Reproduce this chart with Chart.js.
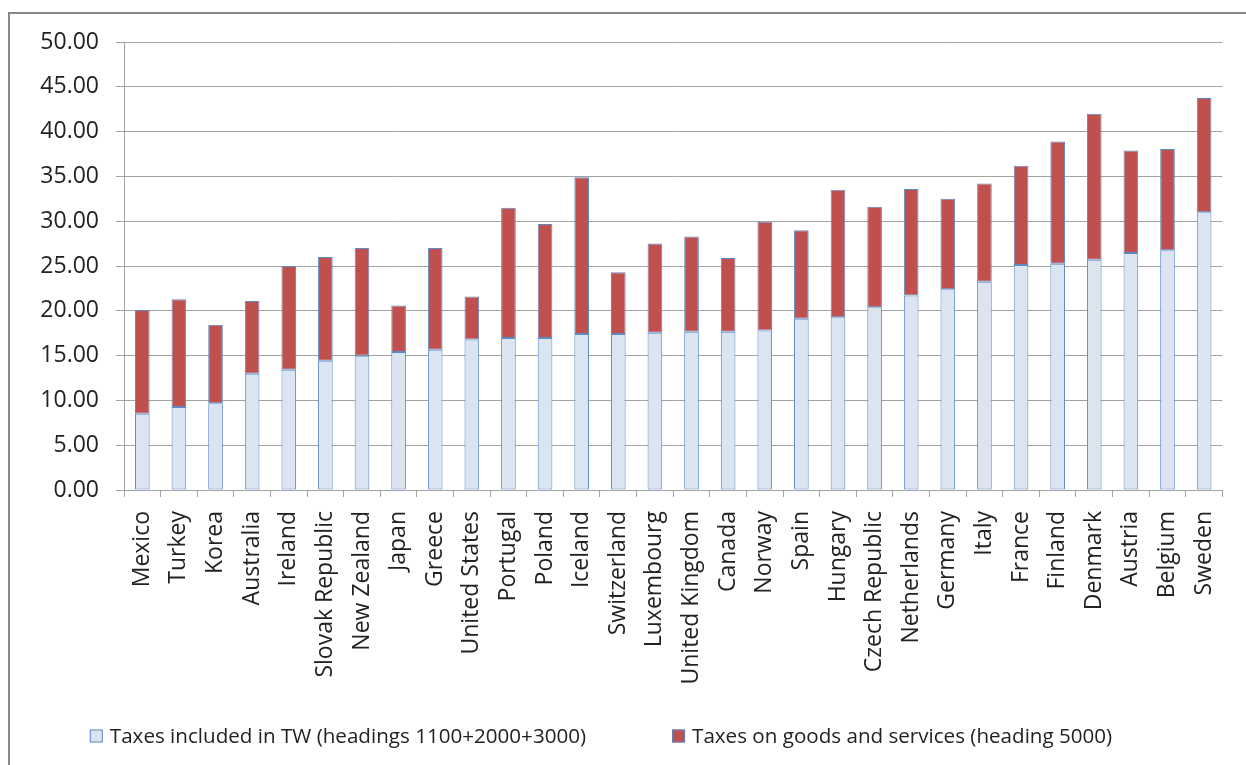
<!DOCTYPE html>
<html>
<head>
<meta charset="utf-8">
<script src="https://cdn.jsdelivr.net/npm/chart.js@4.4.1/dist/chart.umd.min.js"></script>
<style>
  html, body { margin: 0; padding: 0; background: #fff; overflow: hidden; }
  #frame { position: absolute; left: 8px; top: 12px; width: 1250px; height: 760px;
           border-left: 2px solid #878787; border-top: 2px solid #878787; }
  #wrap { position: absolute; left: 0; top: 0; width: 1246px; height: 765px; }
</style>
</head>
<body>
<div id="frame"></div>
<div id="wrap"><canvas id="myChart" width="1246" height="765"></canvas></div>
<script>
// countries sorted by the TW part
var countries = ['Mexico', 'Turkey', 'Korea', 'Australia', 'Ireland', 'Slovak Republic', 'New Zealand',
    'Japan', 'Greece', 'United States', 'Portugal', 'Poland', 'Iceland', 'Switzerland', 'Luxembourg',
    'United Kingdom', 'Canada', 'Norway', 'Spain', 'Hungary', 'Czech Republic', 'Netherlands', 'Germany',
    'Italy', 'France', 'Finland', 'Denmark', 'Austria', 'Belgium', 'Sweden'];

// headings 1100+2000+3000
var twTaxes = [8.50, 9.26, 9.67, 12.98, 13.43, 14.43, 14.99, 15.40, 15.66, 16.80, 16.96, 16.96, 17.40,
    17.40, 17.56, 17.67, 17.67, 17.80, 19.10, 19.27, 20.40, 21.70, 22.40, 23.25, 25.10, 25.26, 25.70,
    26.45, 26.75, 31.00];

// heading 5000
var goodsTaxes = [11.60, 12.04, 8.78, 8.12, 11.57, 11.57, 12.01, 5.20, 11.34, 4.80, 14.54, 12.74, 17.50,
    6.90, 9.94, 10.63, 8.23, 12.15, 9.90, 14.23, 11.20, 11.90, 10.10, 10.95, 11.10, 13.64, 16.30,
    11.45, 11.30, 12.75];

var yTicks = { min: 0, max: 50, step: 5 };

var textFont = '"Open Sans", "Noto Sans", sans-serif';
var gridGrey = '#a3a3a3';

// legend drawn under the category labels
var bottomLegend = {
    id: 'bottomLegend',
    afterDraw: function(chart) {
        var ctx = chart.ctx;
        var box = 13, gap = 7, spacing = 86, y = 736;
        ctx.save();
        ctx.font = '20.6px ' + textFont;
        var items = chart.data.datasets.map(function(ds) {
            return { ds: ds, w: box + gap + ctx.measureText(ds.label).width };
        });
        var total = items.reduce(function(s, it) { return s + it.w; }, 0) + spacing * (items.length - 1);
        var x = 601 - total / 2;
        items.forEach(function(it) {
            ctx.fillStyle = it.ds.backgroundColor;
            ctx.fillRect(x, y - box / 2, box, box);
            ctx.strokeStyle = it.ds.borderColor;
            ctx.lineWidth = 1;
            ctx.strokeRect(x + 0.5, y - box / 2 + 0.5, box - 1, box - 1);
            ctx.fillStyle = '#222';
            ctx.textBaseline = 'middle';
            ctx.textAlign = 'left';
            ctx.fillText(it.ds.label, x + box + gap, y + 1);
            x += it.w + spacing;
        });
        ctx.restore();
    }
};

var ctx = document.getElementById('myChart').getContext('2d');
var myChart = new Chart(ctx, {
    type: 'bar',
    data: {
        labels: countries,
        datasets: [{
            label: 'Taxes included in TW (headings 1100+2000+3000)',
            data: twTaxes,
            backgroundColor: '#dbe5f1',
            borderColor: '#5d89c4',
            borderWidth: 1,
            borderSkipped: false,
            barPercentage: 0.4,
            categoryPercentage: 1.0
        }, {
            label: 'Taxes on goods and services (heading 5000)',
            data: goodsTaxes,
            backgroundColor: '#c0504d',
            borderColor: '#5d89c4',
            borderWidth: 1,
            borderSkipped: false,
            barPercentage: 0.4,
            categoryPercentage: 1.0
        }]
    },
    options: {
        responsive: false,
        animation: false,
        layout: { padding: { left: 0, right: 17, top: 42, bottom: 75 } },
        plugins: {
            legend: { display: false },
            tooltip: { enabled: false }
        },
        scales: {
            x: {
                stacked: true,
                afterFit: function(scale) { scale.height = 200; },
                grid: {
                    offset: true,
                    drawOnChartArea: false,
                    color: gridGrey,
                    tickColor: gridGrey,
                    tickLength: 7
                },
                border: { display: true, color: gridGrey },
                ticks: {
                    autoSkip: false,
                    minRotation: 90,
                    maxRotation: 90,
                    padding: 14,
                    color: '#222',
                    font: { family: textFont, size: 23 }
                }
            },
            y: {
                stacked: true,
                min: yTicks.min,
                max: yTicks.max,
                afterFit: function(scale) { scale.width = 124; },
                grid: {
                    color: gridGrey,
                    tickColor: gridGrey,
                    tickLength: 8,
                    lineWidth: 1
                },
                border: { display: true, color: gridGrey },
                ticks: {
                    stepSize: yTicks.step,
                    padding: 17,
                    color: '#222',
                    font: { family: textFont, size: 23 },
                    callback: function(v) { return v.toFixed(2); }
                }
            }
        }
    },
    plugins: [bottomLegend]
});
</script>
</body>
</html>
